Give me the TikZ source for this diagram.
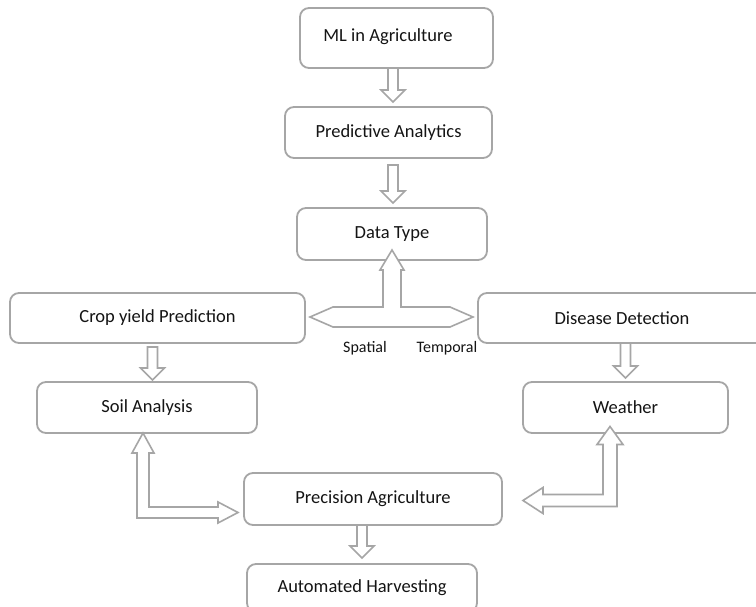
\documentclass[tikz,border=0pt]{standalone}
\usepackage{fontspec}
\setmainfont{Carlito}
\usetikzlibrary{calc}
\definecolor{edge}{HTML}{A6A6A6}
\definecolor{ink}{HTML}{141414}
\tikzset{
  box/.style={draw=edge, line width=1.8pt, rounded corners=9pt, fill=white, text=ink,
    font=\fontsize{18.5}{21}\selectfont, inner sep=0pt, outer sep=0pt},
  blk/.style={draw=edge, line width=1.6pt, fill=white, line join=miter},
  lbl/.style={text=ink, font=\fontsize{16}{18}\selectfont, inner sep=0pt}
}
% hollow downward block arrow: #1 top centre, #2 point giving the tip height
\newcommand\dnarr[2]{%
  \draw[blk] let \p1=(#1), \p2=(#2) in
    (\x1-5pt,\y1) -- (\x1-5pt,\y2+12pt) -- (\x1-12pt,\y2+12pt) -- (\x1,\y2)
    -- (\x1+12pt,\y2+12pt) -- (\x1+5pt,\y2+12pt) -- (\x1+5pt,\y1) -- cycle;}
\begin{document}
\begin{tikzpicture}[x=1pt,y=-1pt]
\useasboundingbox (0,0) rectangle (756,607);
\fill[white] (0,0) rectangle (756,607);
\clip (0,0) rectangle (756,607);

% boxes
\node[box, minimum width=193pt, minimum height=60pt] (ml) at (396.5,38) {\raisebox{5pt}{ML in Agriculture}\hspace*{17pt}};
\node[box, minimum width=207pt, minimum height=51pt] (pa) at (388.5,132.5) {Predictive Analytics};
\node[box, minimum width=190pt, minimum height=52pt] (dt) at (392,234) {Data Type};
\node[box, minimum width=295pt, minimum height=50pt] (crop) at (157.5,318) {Crop yield Prediction};
\node[box, minimum width=288pt, minimum height=50pt] (dd) at (622,318) {Disease Detection};
\node[box, minimum width=220pt, minimum height=51pt] (soil) at (147,407.5) {Soil Analysis};
\node[box, minimum width=205pt, minimum height=51pt] (weather) at (625.5,407.5) {Weather};
\node[box, minimum width=258pt, minimum height=52pt] (prec) at (373,499) {Precision Agriculture};
\node[box, minimum width=230pt, minimum height=48pt] (ah) at (362,588) {\raisebox{3pt}{Automated Harvesting}};

% labels
\node[lbl] (sp) at (365,348) {Spatial};
\node[lbl] (tp) at (447,348) {Temporal};

% straight down arrows
\dnarr{$(ml.south)+(-3.5,0)$}{$(pa.north)+(0,-5)$}
\dnarr{$(pa.south)+(4.5,7)$}{$(dt.north)+(0,-5)$}
\dnarr{$(crop.south)+(-5,4)$}{$(soil.north)+(0,-2)$}
\dnarr{$(dd.south)+(3.5,0)$}{$(weather.north)+(0,-4)$}
\dnarr{$(prec.south)+(-11,0)$}{$(ah.north)+(0,-6)$}

% T-shaped arrow below Data Type
\draw[blk, shift={(dt.south)}] (0,-10) -- (12,10) -- (9,10) -- (9,47) -- (58,47)
  -- (81,57) -- (58,67) -- (-59,67) -- (-82,57) -- (-59,47) -- (-9,47) -- (-9,10)
  -- (-12,10) -- cycle;

% bent arrow Soil Analysis <-> Precision Agriculture
\draw[blk, shift={(soil.south)}] (-4,0) -- (7,20) -- (2,20) -- (2,74) -- (71,74)
  -- (71,69) -- (91,79.5) -- (71,90) -- (71,85) -- (-10,85) -- (-10,20) -- (-15,20) -- cycle;

% bent arrow Weather <-> Precision Agriculture
\draw[blk, shift={(weather.south)}] (-15.5,-6.5) -- (-2.5,11.5) -- (-8.5,11.5)
  -- (-8.5,73.5) -- (-82.5,73.5) -- (-82.5,80.5) -- (-102.5,67.5) -- (-82.5,54.5)
  -- (-82.5,61.5) -- (-22.5,61.5) -- (-22.5,11.5) -- (-28.5,11.5) -- cycle;
\end{tikzpicture}
\end{document}
